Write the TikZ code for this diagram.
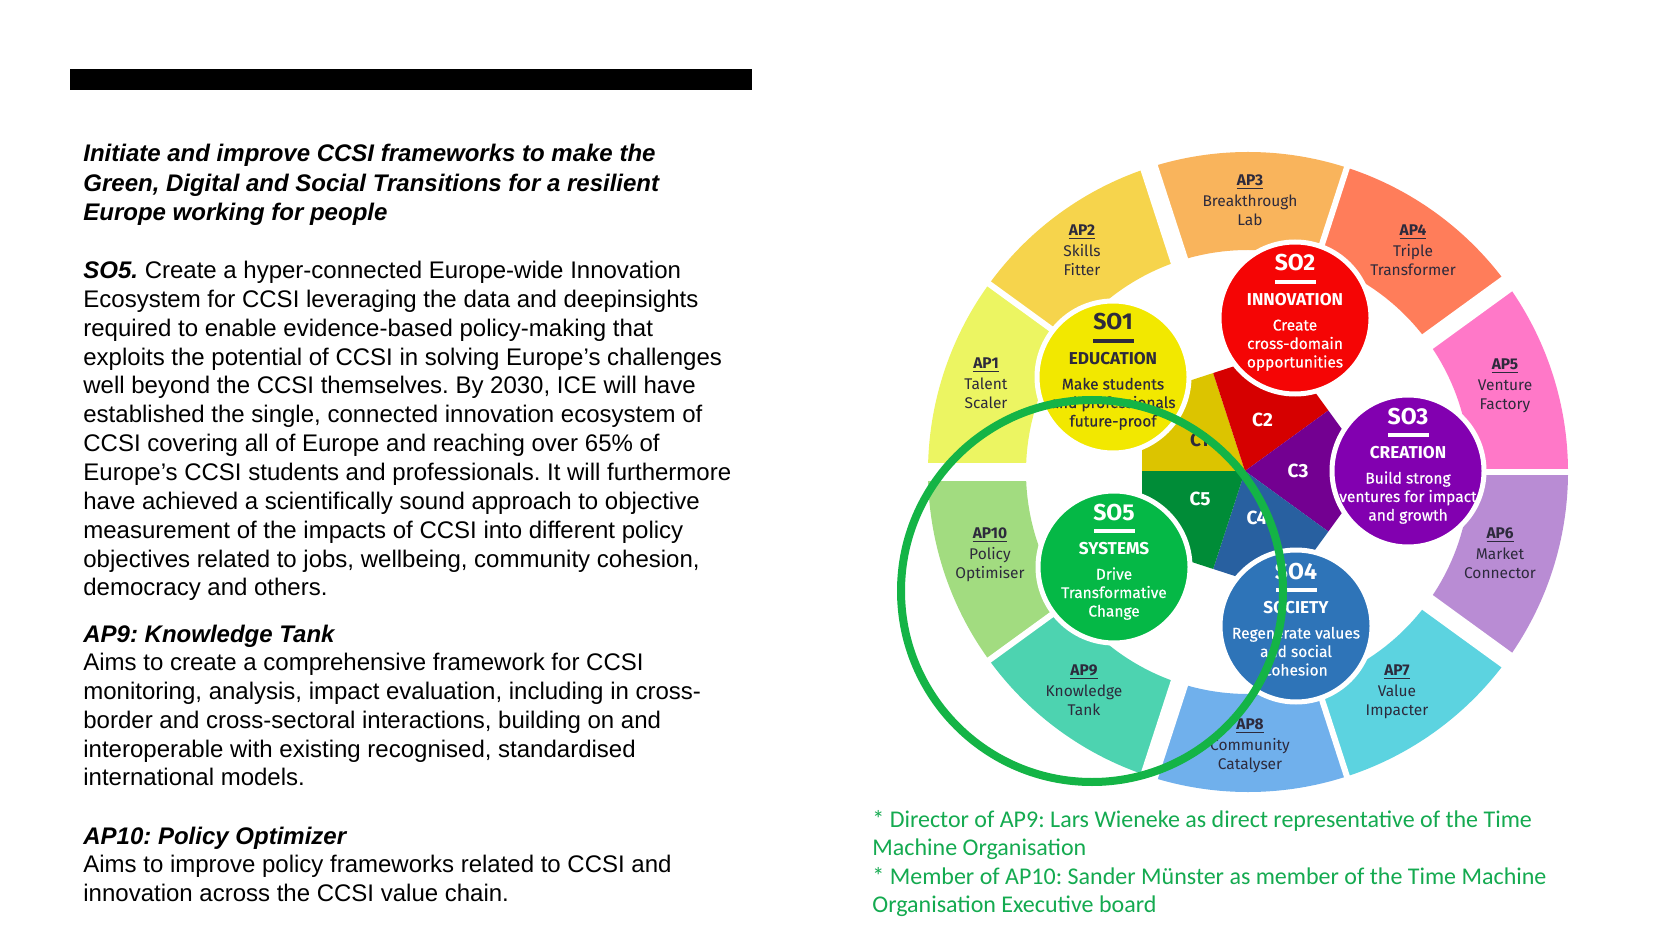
\documentclass[tikz,border=0pt]{standalone}
\usepackage{fontspec}
\setmainfont{Liberation Sans}
\newfontfamily\fira{Fira Sans}
\newfontfamily\firafb[FakeBold=0.4]{Fira Sans}
\newfontfamily\cali{Carlito}
\usetikzlibrary{calc}
\frenchspacing
\definecolor{ap1}{RGB}{236,245,98}
\definecolor{ap2}{RGB}{246,212,76}
\definecolor{ap3}{RGB}{249,180,92}
\definecolor{ap4}{RGB}{255,125,90}
\definecolor{ap5}{RGB}{255,120,200}
\definecolor{ap6}{RGB}{185,140,212}
\definecolor{ap7}{RGB}{92,211,224}
\definecolor{ap8}{RGB}{112,176,236}
\definecolor{ap9}{RGB}{77,211,176}
\definecolor{ap10}{RGB}{162,220,128}
\definecolor{so1c}{RGB}{242,232,0}
\definecolor{so2c}{RGB}{245,5,5}
\definecolor{so3c}{RGB}{130,0,176}
\definecolor{so4c}{RGB}{46,116,184}
\definecolor{so5c}{RGB}{5,184,70}
\definecolor{c1c}{RGB}{220,196,0}
\definecolor{c2c}{RGB}{214,0,0}
\definecolor{c3c}{RGB}{115,0,145}
\definecolor{c4c}{RGB}{40,96,160}
\definecolor{c5c}{RGB}{0,140,55}
\definecolor{hl}{RGB}{20,180,70}
\definecolor{notegreen}{RGB}{20,170,80}
\definecolor{darktxt}{RGB}{45,42,60}
\newcommand\cstack[1]{\vtop{\halign{\hfil##\hfil\cr#1\crcr}}}
\newcommand\lstack[1]{\vtop{\halign{##\hfil\cr#1\crcr}}}
\newcommand\aptitle[1]{\textbf{\underline{#1}}\cr\noalign{\kern1.2pt}}
\tikzset{
  aplabel/.style={anchor=center, inner sep=0, text=darktxt, font=\fira\fontsize{7.75}{9.4}\selectfont},
  sodisc/.style={circle, draw=white, line width=2.5pt, minimum size=76pt, inner sep=0},
  sotitle/.style={anchor=base, inner sep=0, font=\fira\bfseries\fontsize{11.5}{13}\selectfont},
  socat/.style={anchor=base, inner sep=0, font=\fira\bfseries\fontsize{8.6}{10}\selectfont},
  sodesc/.style={anchor=base, inner sep=0, font=\firafb\fontsize{7.75}{9.25}\selectfont},
  clabel/.style={inner sep=0, font=\fira\bfseries\fontsize{9.5}{11}\selectfont},
  bodytxt/.style={anchor=base west, inner sep=0, font=\fontsize{12}{14.43}\selectfont},
  headtxt/.style={anchor=base west, inner sep=0, font=\bfseries\itshape\fontsize{12}{14.6}\selectfont},
}
\newcommand\SOtext[5]{%
  \node[sotitle, text=#2] (#1t) at ($(#1)+(0,-47)$) {#3};
  \fill[#2] ($(#1)+(-20.5,-37.75)$) rectangle ($(#1)+(20.5,-34.25)$);
  \node[socat, text=#2] (#1c) at ($(#1)+(0,-12.5)$) {#4};
  \node[sodesc, text=#2] (#1d) at ($(#1)+(0,12.5)$) {\cstack{#5}};
}
\begin{document}
\begin{tikzpicture}[x=0.5pt,y=-0.5pt]
\useasboundingbox (0,0) rectangle (1654,930);
\fill[white] (0,0) rectangle (1654,930);

% ---------- left column ----------
\fill[black] (70,69) rectangle (752,90);
\node[headtxt] (head) at (83,162) {\lstack{Initiate and improve CCSI frameworks to make the\cr Green, Digital and Social Transitions for a resilient\cr Europe working for people}};
\node[bodytxt] (so5txt) at (83,278.5) {\lstack{{\bfseries\itshape SO5.} Create a hyper-connected Europe-wide Innovation\cr
Ecosystem for CCSI leveraging the data and deepinsights\cr
required to enable evidence-based policy-making that\cr
exploits the potential of CCSI in solving Europe’s challenges\cr
well beyond the CCSI themselves. By 2030, ICE will have\cr
established the single, connected innovation ecosystem of\cr
CCSI covering all of Europe and reaching over 65\% of\cr
Europe’s CCSI students and professionals. It will furthermore\cr
have achieved a scientifically sound approach to objective\cr
measurement of the impacts of CCSI into different policy\cr
objectives related to jobs, wellbeing, community cohesion,\cr
democracy and others.}};
\node[headtxt] (ap9head) at (83,642) {AP9: Knowledge Tank};
\node[bodytxt] (ap9txt) at (83,670.5) {\lstack{Aims to create a comprehensive framework for CCSI\cr
monitoring, analysis, impact evaluation, including in cross-\cr
border and cross-sectoral interactions, building on and\cr
interoperable with existing recognised, standardised\cr
international models.}};
\node[headtxt] (ap10head) at (83,844.5) {AP10: Policy Optimizer};
\node[bodytxt] (ap10txt) at (83,872.5) {\lstack{Aims to improve policy frameworks related to CCSI and\cr
innovation across the CCSI value chain.}};

% ---------- footnote ----------
\node[anchor=base west, inner sep=0, text=notegreen, font=\cali\fontsize{12}{14.3}\selectfont] (note) at (872,827) {\lstack{* Director of AP9: Lars Wieneke as direct representative of the Time\cr
Machine Organisation\cr
* Member of AP10: Sander Münster as member of the Time Machine\cr
Organisation Executive board}};

% ---------- wheel ----------
\coordinate (R) at (1248,472);
\coordinate (W) at (1245,471);
\foreach \i/\c in {0/ap1,1/ap2,2/ap3,3/ap4,4/ap5,5/ap6,6/ap7,7/ap8,8/ap9,9/ap10}{
  \pgfmathsetmacro\s{36*\i-144}
  \pgfmathsetmacro\e{36*\i-180}
  \fill[\c] ($(R)+(\s:222)$) arc[start angle=\s, end angle=\e, radius=222]
     -- ($(R)+(\e:320)$) arc[start angle=\e, end angle=\s, radius=320] -- cycle;
}
\foreach \a in {180,108,36,-36,-108}
  \draw[white, line width=9pt] ($(R)+(\a:205)$) -- ($(R)+(\a:335)$);
\foreach \a in {144,72,0,-72,-144}
  \draw[white, line width=3pt] ($(R)+(\a:205)$) -- ($(R)+(\a:335)$);

% central pentagon
\foreach \n/\c in {-144/c1c,-72/c2c,0/c3c,72/c4c,144/c5c}
  \fill[\c] (W) -- ($(W)+(\n-36:103)$) -- ($(W)+(\n:127.3)$) -- ($(W)+(\n+36:103)$) -- cycle;
\node[clabel, text=darktxt] (c1) at ($(W)+(-146:55)$) {C1};
\node[clabel, text=white] (c2) at ($(W)+(-71:54)$) {C2};
\node[clabel, text=white] (c3) at ($(W)+(0:53)$) {C3};
\node[clabel, text=white] (c4) at (1257,518) {C4};
\node[clabel, text=white] (c5) at ($(W)+(148:53)$) {C5};

% AP labels
\node[aplabel] (l1) at (986,383.5) {\cstack{\aptitle{AP1} Talent\cr Scaler}};
\node[aplabel] (l2) at (1082,250) {\cstack{\aptitle{AP2} Skills\cr Fitter}};
\node[aplabel] (l3) at (1250,200) {\cstack{\aptitle{AP3} Breakthrough\cr Lab}};
\node[aplabel] (l4) at (1413,250) {\cstack{\aptitle{AP4} Triple\cr Transformer}};
\node[aplabel] (l5) at (1505,385.5) {\cstack{\aptitle{AP5} Venture\cr Factory}};
\node[aplabel] (l6) at (1500,553) {\cstack{\aptitle{AP6} Market\cr Connector}};
\node[aplabel] (l7) at (1397,692) {\cstack{\aptitle{AP7} Value\cr Impacter}};
\node[aplabel] (l8) at (1250,745.5) {\cstack{\aptitle{AP8} Community\cr Catalyser}};
\node[aplabel] (l9) at (1084,690) {\cstack{\aptitle{AP9} Knowledge\cr Tank}};
\node[aplabel] (l10) at (990,555) {\cstack{\aptitle{AP10} Policy\cr Optimiser}};

% SO discs
\node[sodisc, fill=so1c] (so1) at (1113,377) {};
\node[sodisc, fill=so2c] (so2) at (1295,318) {};
\node[sodisc, fill=so3c] (so3) at (1408,471) {};
\node[sodisc, fill=so4c] (so4) at (1296,626) {};
\node[sodisc, fill=so5c] (so5) at (1114,567) {};
\SOtext{so1}{darktxt}{SO1}{EDUCATION}{Make students\cr and professionals\cr future-proof}
\SOtext{so2}{white}{SO2}{INNOVATION}{Create\cr cross-domain\cr opportunities}
\SOtext{so3}{white}{SO3}{CREATION}{Build strong\cr ventures for impact\cr and growth}
\SOtext{so4}{white}{SO4}{SOCIETY}{Regenerate values\cr and social\cr cohesion}
\SOtext{so5}{white}{SO5}{SYSTEMS}{Drive\cr Transformative\cr Change}

% highlight circle
\draw[hl, line width=4pt] (1092,591) circle[radius=191];
\end{tikzpicture}
\end{document}
